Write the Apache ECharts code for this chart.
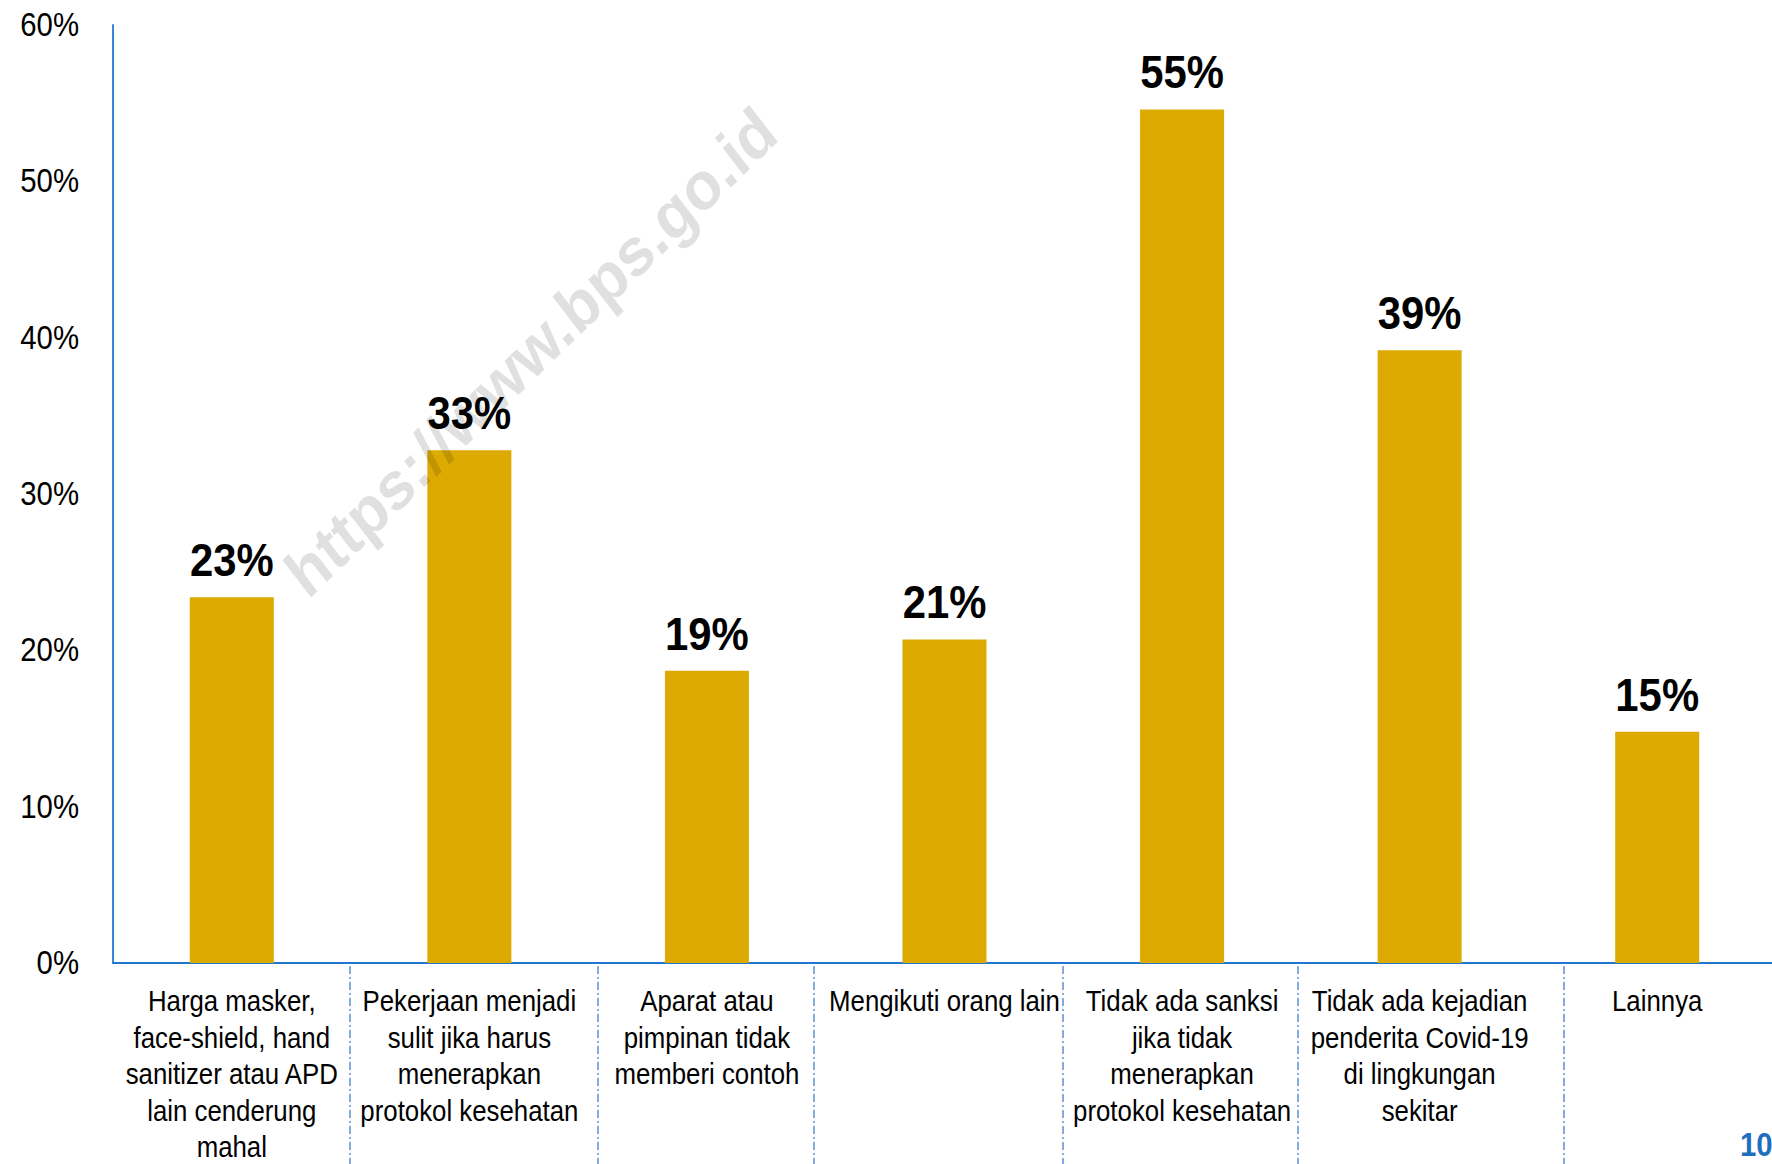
<!DOCTYPE html>
<html>
<head>
<meta charset="utf-8">
<title>Alasan tidak menerapkan protokol kesehatan</title>
<script src="https://cdn.jsdelivr.net/npm/echarts@6/dist/echarts.min.js"></script>
<style>
  html, body { margin: 0; padding: 0; background: #ffffff; overflow: hidden; }
  #wrap { width: 1772px; height: 1164px; overflow: hidden; }
  /* the slide text is a narrow face; no narrow font is installed, so the whole
     chart is drawn wider and squeezed horizontally (svg keeps it sharp) */
  #chart { width: 1991px; height: 1164px; transform: scaleX(0.89); transform-origin: 0 0; }
</style>
</head>
<body>
<div id="wrap"><div id="chart"></div></div>
<script>
// data
const categories = [
  'Harga masker,\nface-shield, hand\nsanitizer atau APD\nlain cenderung\nmahal',
  'Pekerjaan menjadi\nsulit jika harus\nmenerapkan\nprotokol kesehatan',
  'Aparat atau\npimpinan tidak\nmemberi contoh',
  'Mengikuti orang lain',
  'Tidak ada sanksi\njika tidak\nmenerapkan\nprotokol kesehatan',
  'Tidak ada kejadian\npenderita Covid-19\ndi lingkungan\nsekitar',
  'Lainnya'
];
const values = [23.4, 32.8, 18.7, 20.7, 54.6, 39.2, 14.8];
const yTicks = { min: 0, max: 60, step: 10 };

const SX = 0.89; // horizontal squeeze
const font = '"Liberation Sans", Arial, sans-serif';

// dash-dot separators under the axis (text box edges in the original slide)
const sepX = [350, 598, 814, 1063, 1298, 1564];
const separators = sepX.map(function (x) {
  return {
    type: 'line',
    silent: true,
    shape: { x1: x / SX, y1: 966, x2: x / SX, y2: 1164 },
    style: { stroke: '#4a7fd0', lineWidth: 1.5, lineDash: [8, 3, 2, 3] }
  };
});

const chart = echarts.init(document.getElementById('chart'), null, { renderer: 'svg' });
const option = {
  animation: false,
  backgroundColor: '#ffffff',
  grid: {
    left: 113 / SX,
    top: 25,
    width: 1663 / SX,
    bottom: 201,
    outerBoundsMode: 'none'
  },
  xAxis: {
    type: 'category',
    data: categories,
    axisLine: { lineStyle: { color: '#1f77d0', width: 2 } },
    axisTick: { show: false },
    axisLabel: {
      interval: 0,
      margin: 20,
      color: '#000',
      fontFamily: font,
      fontSize: 29,
      lineHeight: 36.5,
      align: 'center'
    }
  },
  yAxis: {
    type: 'value',
    min: yTicks.min,
    max: yTicks.max,
    interval: yTicks.step,
    axisLine: { show: true, lineStyle: { color: '#1f77d0', width: 2 } },
    axisTick: { show: false },
    splitLine: { show: false },
    axisLabel: {
      margin: 34 / SX,
      color: '#000',
      fontFamily: font,
      fontSize: 33,
      formatter: '{value}%'
    }
  },
  series: [{
    type: 'bar',
    data: values,
    barWidth: 84 / SX,
    itemStyle: { color: '#dcaa00' },
    label: {
      show: true,
      position: 'top',
      distance: 14,
      color: '#000',
      fontFamily: font,
      fontWeight: 'bold',
      fontSize: 47,
      formatter: function (p) { return Math.round(p.value) + '%'; }
    }
  }],
  graphic: separators.concat([
    {
      type: 'text',
      z: 100,
      silent: true,
      x: 531 / SX,
      y: 352,
      rotation: 41 * Math.PI / 180,
      style: {
        text: 'https://www.bps.go.id',
        font: 'bold 68px ' + font,
        fill: 'rgba(0,0,0,0.12)',
        align: 'center',
        verticalAlign: 'middle'
      }
    },
    {
      type: 'text',
      silent: true,
      x: 1740 / SX,
      y: 1128,
      style: {
        text: '10',
        font: 'bold 33px ' + font,
        fill: '#1f6fbf'
      }
    }
  ])
};
chart.setOption(option);
</script>
</body>
</html>
